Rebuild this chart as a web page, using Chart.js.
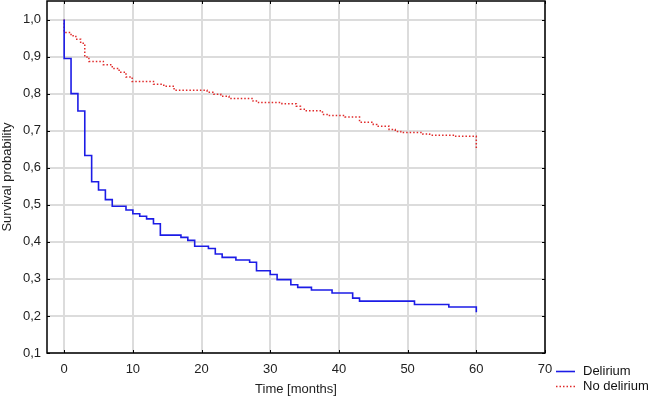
<!DOCTYPE html>
<html>
<head>
<meta charset="utf-8">
<title>Survival probability</title>
<script src="https://cdn.jsdelivr.net/npm/chart.js@4.4.1/dist/chart.umd.min.js"></script>
<style>
    body { margin: 0; background: #fff; }
    #wrap { position: relative; width: 649px; height: 398px; }
</style>
</head>
<body>
<div id="wrap"><canvas id="survivalChart"></canvas></div>
<script>
// Kaplan-Meier data (time in months, survival probability)
const deliriumTimes = [0, 0, 1, 2, 3, 4, 5, 6, 7, 9, 10, 11, 12, 13, 14, 17, 18, 19, 21, 22, 23, 25, 27, 28, 30, 31, 33, 34, 36, 39, 42, 43, 51, 56, 60, 60];
const deliriumSurv = [1.0, 0.895, 0.80, 0.753, 0.633, 0.562, 0.54, 0.514, 0.496, 0.486, 0.476, 0.469, 0.462, 0.449, 0.418, 0.412, 0.404, 0.388, 0.382, 0.367, 0.358, 0.351, 0.345, 0.322, 0.312, 0.298, 0.284, 0.277, 0.270, 0.262, 0.248, 0.240, 0.231, 0.224, 0.224, 0.21];

const noDeliriumTimes = [0, 0, 1.0, 1.7, 2.4, 3.0, 3.6, 5.7, 7.0, 8.0, 9.0, 9.9, 13.0, 14.5, 16.0, 20.8, 21.8, 22.8, 24.0, 27.5, 28.3, 31.7, 33.8, 34.4, 35.1, 37.6, 38.4, 40.9, 43.0, 45.0, 45.5, 47.3, 48.2, 49.0, 52.2, 53.2, 56.8, 60, 60];
const noDeliriumSurv = [1.0, 0.965, 0.956, 0.947, 0.936, 0.899, 0.887, 0.878, 0.868, 0.858, 0.845, 0.833, 0.825, 0.82, 0.809, 0.804, 0.798, 0.793, 0.787, 0.78, 0.776, 0.773, 0.766, 0.758, 0.754, 0.744, 0.741, 0.737, 0.723, 0.717, 0.712, 0.703, 0.698, 0.695, 0.691, 0.688, 0.685, 0.681, 0.651];

const xTicks = [0, 10, 20, 30, 40, 50, 60, 70];
const yTicks = [0.1, 0.2, 0.3, 0.4, 0.5, 0.6, 0.7, 0.8, 0.9, 1.0];

const FONT = 'Liberation Sans, Arial, sans-serif';

function toPoints(times, values) {
    return times.map(function(t, i) { return { x: t, y: values[i] }; });
}

/**
 * Box frame round the plot with small inward ticks
 */
const framePlugin = {
    id: 'frame',
    afterDatasetsDraw: function(chart) {
        const ctx = chart.ctx;
        const a = chart.chartArea;
        const xs = chart.scales.x;
        const ys = chart.scales.y;
        ctx.save();
        ctx.strokeStyle = '#000';
        ctx.lineWidth = 1.5;
        ctx.strokeRect(a.left, a.top, a.right - a.left, a.bottom - a.top);
        ctx.lineWidth = 1;
        ctx.beginPath();
        xTicks.forEach(function(v) {
            const px = Math.round(xs.getPixelForValue(v)) + 0.5;
            ctx.moveTo(px, a.bottom); ctx.lineTo(px, a.bottom - 3);
            ctx.moveTo(px, a.top); ctx.lineTo(px, a.top + 3);
        });
        yTicks.forEach(function(v) {
            const py = Math.round(ys.getPixelForValue(v)) + 0.5;
            ctx.moveTo(a.left, py); ctx.lineTo(a.left + 3, py);
            ctx.moveTo(a.right, py); ctx.lineTo(a.right - 3, py);
        });
        ctx.stroke();
        ctx.restore();
    }
};

/**
 * Legend at the bottom right, under the plot
 */
const legendPlugin = {
    id: 'cornerLegend',
    afterDraw: function(chart) {
        const ctx = chart.ctx;
        const a = chart.chartArea;
        const x0 = a.right + 11;
        ctx.save();
        ctx.font = '13px ' + FONT;
        ctx.textBaseline = 'middle';
        chart.data.datasets.forEach(function(ds, i) {
            const y = Math.round(a.bottom + 18 + i * 14.5) + 0.5;
            ctx.strokeStyle = ds.borderColor;
            ctx.lineWidth = ds.borderWidth;
            ctx.setLineDash(ds.borderDash || []);
            ctx.beginPath();
            ctx.moveTo(x0, y);
            ctx.lineTo(x0 + 19, y);
            ctx.stroke();
            ctx.setLineDash([]);
            ctx.fillStyle = '#111';
            ctx.fillText(ds.label, x0 + 27, y);
        });
        ctx.restore();
    }
};

function noEdgePadding(scale) {
    scale.paddingTop = 0;
    scale.paddingBottom = 0;
    scale.paddingLeft = 0;
    scale.paddingRight = 0;
}

const ctx = document.getElementById('survivalChart').getContext('2d');
const survivalChart = new Chart(ctx, {
    type: 'line',
    data: {
        datasets: [{
            label: 'Delirium',
            data: toPoints(deliriumTimes, deliriumSurv),
            borderColor: '#1c1ce6',
            borderWidth: 1.6,
            stepped: 'before',
            pointRadius: 0,
            fill: false
        }, {
            label: 'No delirium',
            data: toPoints(noDeliriumTimes, noDeliriumSurv),
            borderColor: '#e02a2a',
            borderWidth: 1.5,
            borderDash: [1.5, 2],
            stepped: 'before',
            pointRadius: 0,
            fill: false
        }]
    },
    options: {
        responsive: true,
        maintainAspectRatio: false,
        animation: false,
        layout: {
            padding: { left: 0, top: 1, right: 104, bottom: 0 }
        },
        plugins: {
            legend: { display: false },
            tooltip: { enabled: false }
        },
        scales: {
            x: {
                type: 'linear',
                min: -2.5,
                max: 70,
                afterBuildTicks: function(scale) {
                    scale.ticks = xTicks.map(function(v) { return { value: v }; });
                },
                afterFit: function(scale) {
                    scale.height = 45;
                    noEdgePadding(scale);
                },
                grid: { color: '#dcdcdc', lineWidth: 2, drawTicks: false },
                border: { display: false },
                ticks: {
                    padding: 9,
                    color: '#222',
                    font: { family: FONT, size: 13 },
                    maxRotation: 0
                },
                title: {
                    display: true,
                    text: 'Time [months]',
                    color: '#222',
                    font: { family: FONT, size: 13 },
                    padding: { top: 0, bottom: 1 }
                }
            },
            y: {
                type: 'linear',
                min: 0.1,
                max: 1.05,
                afterBuildTicks: function(scale) {
                    scale.ticks = yTicks.map(function(v) { return { value: v }; });
                },
                afterFit: function(scale) {
                    scale.width = 47;
                    noEdgePadding(scale);
                },
                grid: { color: '#dcdcdc', lineWidth: 2, drawTicks: false },
                border: { display: false },
                ticks: {
                    padding: 6,
                    color: '#222',
                    font: { family: FONT, size: 13 },
                    callback: function(value) { return value.toFixed(1).replace('.', ','); }
                },
                title: {
                    display: true,
                    text: 'Survival probability',
                    color: '#222',
                    font: { family: FONT, size: 13 },
                    padding: { top: 0, bottom: 0 }
                }
            }
        }
    },
    plugins: [framePlugin, legendPlugin]
});
</script>
</body>
</html>
